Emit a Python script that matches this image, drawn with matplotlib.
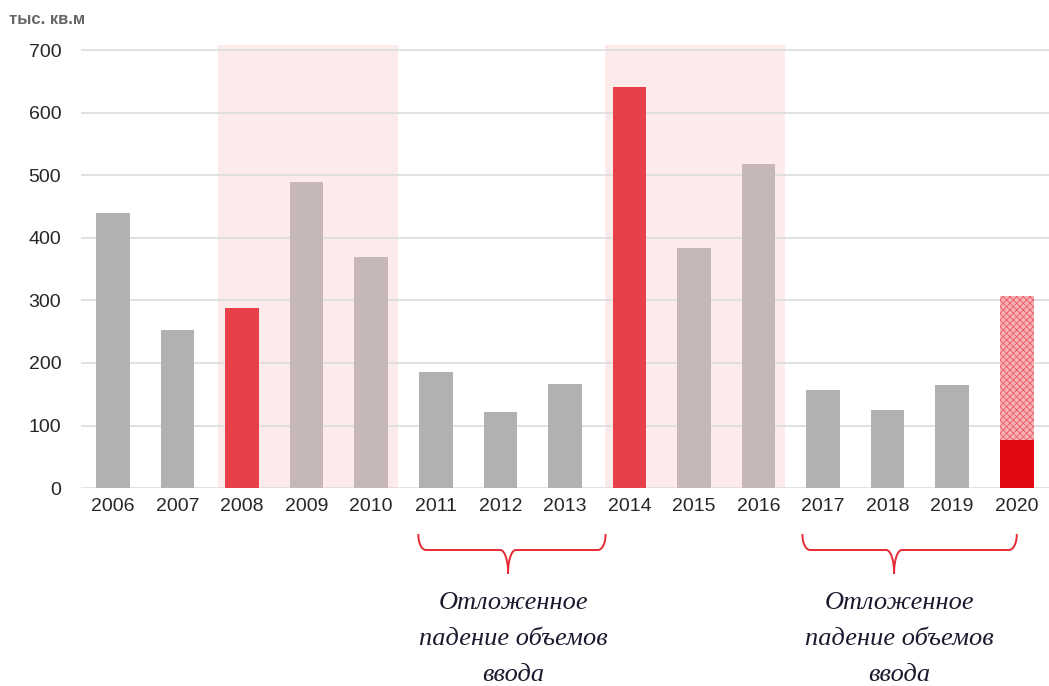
import matplotlib
matplotlib.use("Agg")
import matplotlib.pyplot as plt
import matplotlib.transforms as mtransforms
import numpy as np

years = ["2006", "2007", "2008", "2009", "2010", "2011", "2012", "2013",
         "2014", "2015", "2016", "2017", "2018", "2019", "2020"]
values = [440, 252, 288, 489, 369, 185, 121, 166, 642, 384, 519, 157, 125, 165, 77]
forecast_2020 = 307
bar_kind = ["g", "g", "r", "p", "p", "g", "g", "g", "r", "p", "p", "g", "g", "g", "d"]
shade_spans = [("2008", "2010"), ("2014", "2016")]
brace_spans = [("2011", "2013"), ("2017", "2020")]
annotation_lines = ["Отложенное", "падение объемов", "ввода"]
yticks = [0, 100, 200, 300, 400, 500, 600, 700]
unit_label = "тыс. кв.м"

colors = {"g": "#b1b1b3", "r": "#e8404a", "p": "#c7b8b8", "d": "#e30613"}

plt.rcParams["font.family"] = ["Liberation Sans", "DejaVu Sans"]
plt.rcParams["hatch.linewidth"] = 0.6

fig = plt.figure(figsize=(10.49, 6.86), dpi=100)
ax = fig.add_axes([0.077, 0.2886, 0.923, 0.647])
x = np.arange(len(years))
ax.set_xlim(-0.5, len(years) - 0.5)
ax.set_ylim(0, 710)

for a, b in shade_spans:
    i0, i1 = years.index(a), years.index(b)
    ax.axvspan(i0 - 0.38, i1 + 0.41, ymin=0, ymax=708 / 710, color="#fdebec", zorder=0, lw=0)

ax.set_yticks(yticks)
ax.yaxis.grid(True, color="#dcdcdc", lw=1.2, zorder=0.5)
ax.set_axisbelow(True)

w = 0.52
i20 = years.index("2020")
ax.bar(x[i20], forecast_2020, width=w, color="#f6b3b7", edgecolor="#ec5a63",
       hatch="xxxxx", lw=0, zorder=2)
ax.bar(x, values, width=w, color=[colors[k] for k in bar_kind], lw=0, zorder=3)

for s in ax.spines.values():
    s.set_visible(False)
ax.tick_params(axis="both", length=0, labelsize=14, labelcolor="#262626")
ax.tick_params(axis="y", pad=14)
ax.tick_params(axis="x", pad=7)
ax.set_xticks(x)
ax.set_xticklabels(years)

fig.text(0.009, 0.972, unit_label, fontsize=12, color="#666666", fontweight="bold",
         va="center", ha="left")

# braces and annotations
trans = mtransforms.blended_transform_factory(ax.transData, fig.transFigure)
y_top = 1 - 535 / 686
y_mid = 1 - 550 / 686
y_tip = 1 - 573 / 686
brace_geom = [(-0.27, 0.63, 0.12, 0.08), (-0.32, 0.0, 0.1, 0.08)]  # left, right, tip shift, text shift
for (a, b), (lo, ro, tshift, txs) in zip(brace_spans, brace_geom):
    i0 = years.index(a) + lo
    i1 = years.index(b) + ro
    c = years.index(a) + 1 + tshift
    t = np.linspace(0, 1, 20)
    ly = y_top + (y_mid - y_top) * np.sin(t * np.pi / 2)
    lx = i0 + 0.12 * (1 - np.cos(t * np.pi / 2))
    rx = i1 - 0.12 * (1 - np.cos(t * np.pi / 2))
    tip_y = y_mid + (y_tip - y_mid) * (1 - np.cos(t * np.pi / 2))
    xs = np.concatenate([lx, c - 0.12 + 0.12 * np.sin(t * np.pi / 2)])
    ys = np.concatenate([ly, tip_y])
    ax.plot(xs, ys, color="#e52a35", lw=1.4, transform=trans, clip_on=False)
    xs2 = np.concatenate([rx, c + 0.12 - 0.12 * np.sin(t * np.pi / 2)])
    ax.plot(xs2, ys, color="#e52a35", lw=1.4, transform=trans, clip_on=False)
    for k, line in enumerate(annotation_lines):
        ypix = 603 + 36 * k
        ax.text(c + txs, 1 - ypix / 686, line, transform=trans, ha="center", va="center",
                fontsize=19, style="italic", family="Liberation Serif", color="#1a1a2e")

fig.savefig("out.png", dpi=100)
